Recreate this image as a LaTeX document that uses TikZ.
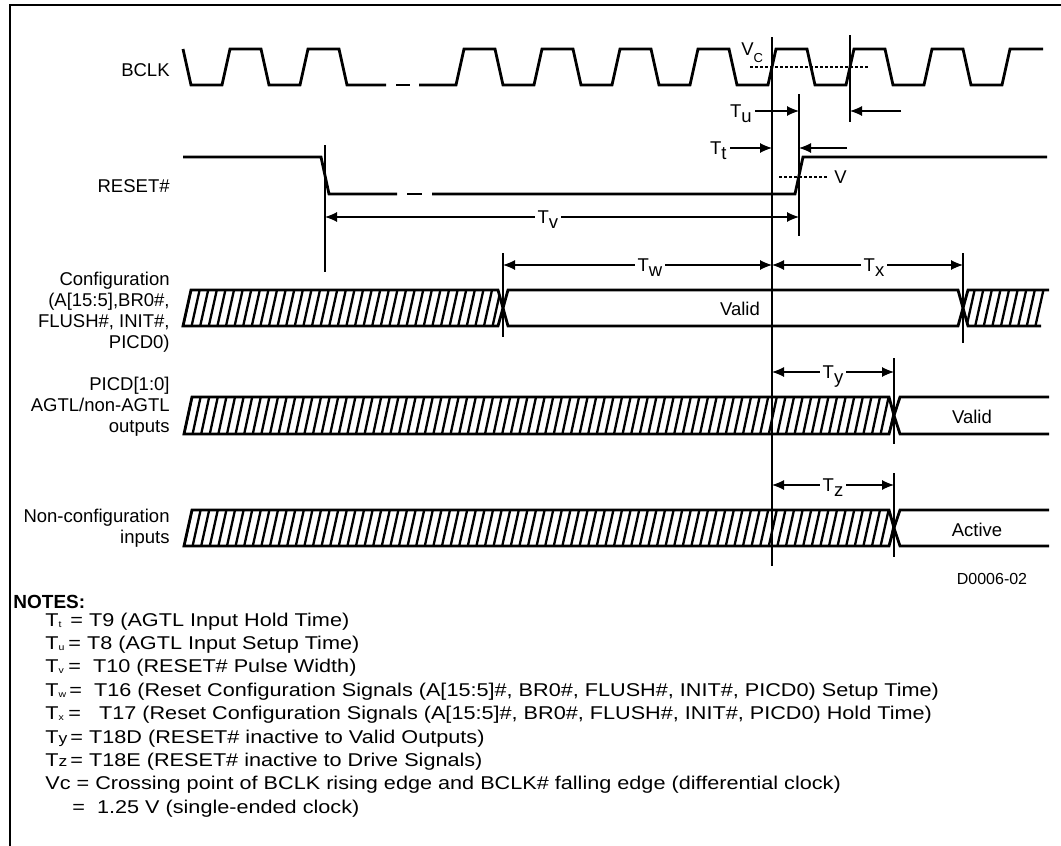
\documentclass[tikz,border=0pt]{standalone}
\usepackage{fontspec}
\setmainfont{Liberation Sans}
\newfontfamily\notefamily[FakeStretch=1.17]{Liberation Sans}
\usetikzlibrary{positioning}
\usetikzlibrary{calc}
\usetikzlibrary{arrows.meta}
\tikzset{>={Latex[length=6pt,width=5pt]}}
\tikzset{frame/.style={line width=1.3pt}}
\tikzset{signal/.style={line width=1.4pt}}
\tikzset{hatch/.style={line width=1.15pt}}
\tikzset{refline/.style={line width=0.65pt}}
\tikzset{dim/.style={line width=0.55pt}}
\tikzset{level/.style={line width=0.65pt, dash pattern=on 1.5pt off 1pt}}
\tikzset{labelfont/.style={font=\fontsize{9.25}{10.5}\selectfont}}
\tikzset{signame/.style={labelfont, anchor=east, align=right, inner sep=0pt}}
\tikzset{tlabel/.style={labelfont, fill=white, inner sep=1.5pt}}
\tikzset{note/.style={anchor=base west, inner sep=0pt, font=\notefamily\fontsize{9.25}{10}\selectfont}}
\newcommand{\lowsub}[1]{\raisebox{-0.3em}[0pt][0pt]{#1}}
\newcommand{\notesub}[1]{\raisebox{-0.5pt}{\fontsize{4.5}{5}\selectfont #1}}

\begin{document}
\begin{tikzpicture}[x=0.5pt, y=-0.5pt]
    \useasboundingbox (0,0) rectangle (1061,846);

    % Frame
    \draw [frame] (10,846) -- (10,5) -- (1061,5);

    % Signal names
    \node [signame] (bclk) at (170,70) {BCLK};
    \node [signame] (reset) at (170,186) {RESET\#};
    \node [signame] (config) at (170,312) {Configuration\\(A[15:5],BR0\#,\\FLUSH\#, INIT\#,\\PICD0)};
    \node [signame] (picd) at (170,407) {PICD[1:0]\\AGTL/non-AGTL\\outputs};
    \node [signame] (noncfg) at (170,528) {Non-configuration\\inputs};

    % BCLK
    \draw [signal] (183,49) -- (191,85)
        \foreach \r in {222,300} { -- (\r,85) -- (\r+8,49) -- (\r+39,49) -- (\r+47,85) }
        -- (386,85);
    \draw [signal] (396,85) -- (410,85);
    \draw [signal] (419,85)
        \foreach \r in {456,534,612,690,768,846,924} { -- (\r,85) -- (\r+8,49) -- (\r+39,49) -- (\r+47,85) }
        -- (1002,85) -- (1010,49) -- (1043,49);

    % RESET#
    \draw [signal] (183,157) -- (321,157) -- (329,194) -- (397,194);
    \draw [signal] (407,194) -- (422,194);
    \draw [signal] (432,194) -- (795,194) -- (803,157) -- (1047,157);

    % Levels
    \draw [level] (750,67) -- (869,67);
    \draw [level] (779,177) -- (827,177);
    \node [labelfont, anchor=base west, inner sep=0pt] (vc) at (741,55) {V\raisebox{-3.5pt}{\fontsize{6.5}{7}\selectfont C}};
    \node [labelfont, anchor=west, inner sep=0pt] (vlevel) at (834,177) {V};

    % Reference lines
    \coordinate (clk-a) at (772,37);
    \coordinate (clk-b) at (850,35);
    \coordinate (rst-up) at (799,94);
    \coordinate (rst-dn) at (325,145);
    \coordinate (cfg-in) at (503,253);
    \coordinate (cfg-out) at (963,253);
    \coordinate (out-drv) at (894,358);
    \coordinate (in-drv) at (894,473);
    \draw [refline] (clk-a) -- ++(0,529);
    \draw [refline] (clk-b) -- ++(0,87);
    \draw [refline] (rst-up) -- ++(0,142);
    \draw [refline] (rst-dn) -- ++(0,127);
    \draw [refline] (cfg-in) -- ++(0,84);
    \draw [refline] (cfg-out) -- ++(0,90);
    \draw [refline] (out-drv) -- ++(0,86);
    \draw [refline] (in-drv) -- ++(0,84);

    % Configuration bus
    \begin{scope}
        \clip (183,326) -- (191,290) -- (498,290) -- (503,308) -- (498,326) -- cycle;
        \foreach \x in {183,191.6,...,510} \draw [hatch] (\x,326) -- (\x+8,290);
    \end{scope}
    \begin{scope}
        \clip (963,308) -- (968,290) -- (1049,290) -- (1041,326) -- (968,326) -- cycle;
        \foreach \x in {958,966.6,...,1050} \draw [hatch] (\x,326) -- (\x+8,290);
    \end{scope}
    \draw [signal] (183,326) -- (191,290) -- (498,290) -- (503,308) -- (498,326) -- cycle;
    \draw [signal] (503,308) -- (508,290) -- (958,290) -- (963,308) -- (958,326) -- (508,326) -- cycle;
    \draw [signal] (1049,290) -- (968,290) -- (963,308) -- (968,326) -- (1041,326);
    \node [labelfont] (cfg-valid) at (740,309) {Valid};

    % PICD[1:0] bus
    \begin{scope}
        \clip (184,434) -- (192,397) -- (889,397) -- (894,415.5) -- (889,434) -- cycle;
        \foreach \x in {184,192.6,...,900} \draw [hatch] (\x,434) -- (\x+8,397);
    \end{scope}
    \draw [signal] (184,434) -- (192,397) -- (889,397) -- (894,415.5) -- (889,434) -- cycle;
    \draw [signal] (1049,397) -- (900,397) -- (894,415.5) -- (900,434) -- (1049,434);
    \node [labelfont] (picd-valid) at (972,417) {Valid};

    % Non-configuration bus
    \begin{scope}
        \clip (184,546) -- (192,510) -- (889,510) -- (894,528) -- (889,546) -- cycle;
        \foreach \x in {184,192.6,...,900} \draw [hatch] (\x,546) -- (\x+8,510);
    \end{scope}
    \draw [signal] (184,546) -- (192,510) -- (889,510) -- (894,528) -- (889,546) -- cycle;
    \draw [signal] (1049,510) -- (900,510) -- (894,528) -- (900,546) -- (1049,546);
    \node [labelfont] (noncfg-active) at (977,530) {Active};

    % Timing arrows
    \node [tlabel, anchor=east] (tu) at (755,111) {T\lowsub{u}};
    \draw [dim,->] (tu.east) -- (tu.east -| rst-up);
    \coordinate (tu-r) at (901,111);
    \draw [dim,->] (tu-r) -- (tu-r -| clk-b);
    \node [tlabel, anchor=east] (tt) at (730,148) {T\lowsub{t}};
    \draw [dim,->] (tt.east) -- (tt.east -| clk-a);
    \coordinate (tt-r) at (847,148);
    \draw [dim,->] (tt-r) -- (tt-r -| rst-up);
    \coordinate (tv-l) at (325,217);
    \coordinate (tw-l) at (503,265);
    \coordinate (ty-l) at (772,372);
    \coordinate (tz-l) at (772,485);
    \draw [dim,<->] (tv-l) -- (tv-l -| rst-up) node [tlabel, pos=0.47] (tv) {T\lowsub{v}};
    \draw [dim,<->] (tw-l) -- (tw-l -| clk-a) node [tlabel, pos=0.546] (tw) {T\lowsub{w}};
    \draw [dim,<->] (tw-l -| clk-a) -- (tw-l -| cfg-out) node [tlabel, pos=0.534] (tx) {T\lowsub{x}};
    \draw [dim,<->] (ty-l) -- (ty-l -| out-drv) node [tlabel, pos=0.5] (ty) {T\lowsub{y}};
    \draw [dim,<->] (tz-l) -- (tz-l -| in-drv) node [tlabel, pos=0.5] (tz) {T\lowsub{z}};

    % Figure number
    \node [font=\fontsize{8}{9}\selectfont] (figid) at (992,579) {D0006-02};

    % Notes
    \node [anchor=base west, inner sep=0pt, font=\bfseries\fontsize{9.5}{10}\selectfont] (notes) at (13,608) {NOTES:};
    \node [note] (note-t) at (45,626) {\makebox[12.5pt][l]{T\notesub{t}}= T9 (AGTL Input Hold Time)};
    \node [note] (note-u) at (45,649.4) {\makebox[11.5pt][l]{T\notesub{u}}= T8 (AGTL Input Setup Time)};
    \node [note] (note-v) at (45,672.8) {\makebox[11.5pt][l]{T\notesub{v}}=~~T10 (RESET\# Pulse Width)};
    \node [note] (note-w) at (45,696.2) {\makebox[12pt][l]{T\notesub{w}}=~~T16 (Reset Configuration Signals (A[15:5]\#, BR0\#, FLUSH\#, INIT\#, PICD0) Setup Time)};
    \node [note] (note-x) at (45,719.6) {\makebox[11.5pt][l]{T\notesub{x}}=~~~T17 (Reset Configuration Signals (A[15:5]\#, BR0\#, FLUSH\#, INIT\#, PICD0) Hold Time)};
    \node [note] (note-y) at (45,743) {T{\fontsize{7.5}{8}\selectfont y}\,= T18D (RESET\# inactive to Valid Outputs)};
    \node [note] (note-z) at (45,766.4) {T{\fontsize{7.5}{8}\selectfont z}\,= T18E (RESET\# inactive to Drive Signals)};
    \node [note] (note-vc) at (45,789.8) {Vc = Crossing point of BCLK rising edge and BCLK\# falling edge (differential clock)};
    \node [note] (note-se) at (45,813.2) {\makebox[13.5pt][l]{}=~~1.25 V (single-ended clock)};

\end{tikzpicture}
\end{document}
